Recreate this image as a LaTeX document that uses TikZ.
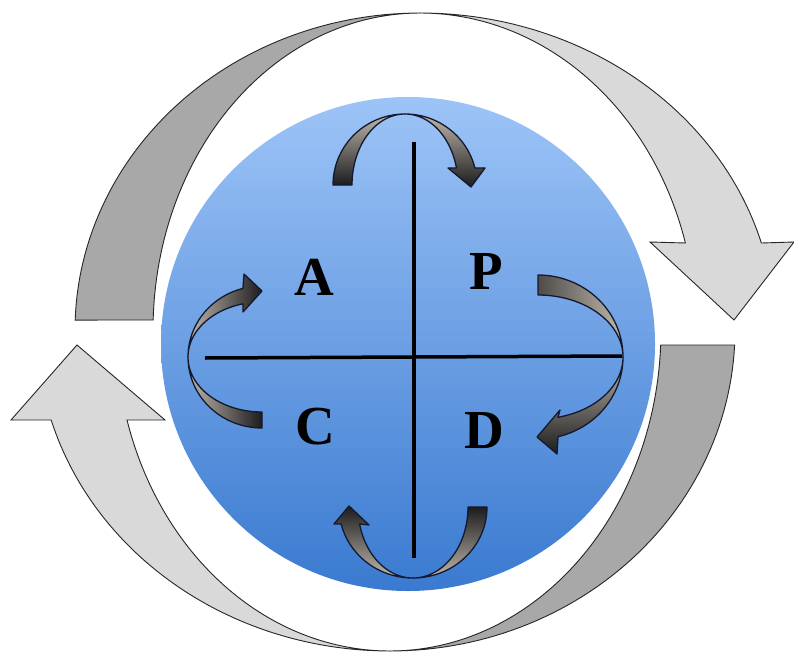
\documentclass[tikz,border=0pt]{standalone}
\usepackage{fontspec}
\setmainfont{Liberation Serif}
\definecolor{ringdark}{RGB}{168,168,168}
\definecolor{ringlight}{RGB}{217,217,217}
\definecolor{bluetop}{RGB}{157,196,247}
\definecolor{bluebot}{RGB}{58,122,208}
\definecolor{arrlight}{RGB}{192,184,172}
\definecolor{arrdark}{RGB}{28,28,30}
\definecolor{arredge}{RGB}{20,25,45}
\tikzset{
  ringband/.style={draw=black!85, line width=0.9pt, line join=miter},
  smallarr/.style={draw=arredge, line width=1.3pt, line join=round},
  letter/.style={font=\fontsize{55}{55}\selectfont\bfseries, inner sep=0pt},
  axisline/.style={line width=3.5pt, black},
}
\begin{document}
\begin{tikzpicture}[x=1pt,y=-1pt]
\useasboundingbox (0,0) rectangle (794,655);
\clip (0,0) rectangle (794,655);
\fill[white] (0,0) rectangle (794,655);

% ---- outer ring: top pair (centre 420,330)
\path[ringband, fill=ringdark]
  plot[domain=181.8:270, samples=60, variable=\t] ({420+345*cos(\t)},{330+317*sin(\t)})
  -- plot[domain=270:181.8, samples=60, variable=\t] ({420+267*cos(\t)},{330+317*sin(\t)})
  -- cycle;
\path[ringband, fill=ringlight]
  plot[domain=270:344.07, samples=60, variable=\t] ({420+355*cos(\t)},{330+317*sin(\t)})
  -- (794,242) -- (734,320) -- (650,242)
  -- plot[domain=344.07:270, samples=60, variable=\t] ({420+276*cos(\t)},{330+317*sin(\t)})
  -- cycle;
% ---- outer ring: bottom pair (centre 390,330)
\path[ringband, fill=ringdark]
  plot[domain=2.68:90, samples=60, variable=\t] ({390+345*cos(\t)},{330+321*sin(\t)})
  -- plot[domain=90:2.68, samples=60, variable=\t] ({390+271*cos(\t)},{330+321*sin(\t)})
  -- cycle;
\path[ringband, fill=ringlight]
  plot[domain=90:163.72, samples=60, variable=\t] ({390+353*cos(\t)},{330+321*sin(\t)})
  -- (11,420) -- (77,345) -- (165,420)
  -- plot[domain=163.72:90, samples=60, variable=\t] ({390+274*cos(\t)},{330+321*sin(\t)})
  -- cycle;

% ---- blue disc
\shade[top color=bluetop, bottom color=bluebot] (408,344) circle[radius=247pt];

% ---- cross
\coordinate (vt) at (414,142);
\coordinate (vb) at (414,558);
\coordinate (hl) at (205,358);
\coordinate (hr) at (622,356);
\draw[axisline] (vt) -- (vb);
\draw[axisline] (hl) -- (hr);

% ---- letters
\node[letter] (A) at (314,277) {A};
\node[letter] (P) at (486,271) {P};
\node[letter] (C) at (315,427) {C};
\node[letter] (D) at (484,431) {D};

% ---- small arrow top (A -> P), centre (405,185)
\path[smallarr, top color=arrlight, bottom color=arrdark]
  plot[domain=180:270, samples=40, variable=\t] ({405+72*cos(\t)},{185+71*sin(\t)})
  -- plot[domain=270:180, samples=40, variable=\t] ({405+53*cos(\t)},{185+71*sin(\t)})
  -- cycle;
\path[smallarr, top color=arrlight, bottom color=arrdark]
  plot[domain=270:346.1, samples=40, variable=\t] ({405+72*cos(\t)},{185+71*sin(\t)})
  -- (485,168) -- (471,187) -- (448,168)
  -- plot[domain=346.1:270, samples=40, variable=\t] ({405+53*cos(\t)},{185+71*sin(\t)})
  -- cycle;

% ---- small arrow right (P -> D), centre (538,357)
\path[smallarr, left color=arrdark!70!arrlight, right color=arrlight]
  plot[domain=270:360, samples=40, variable=\t] ({538+85*cos(\t)},{357+82*sin(\t)})
  -- plot[domain=360:270, samples=40, variable=\t] ({538+85*cos(\t)},{357+62*sin(\t)})
  -- cycle;
\path[smallarr, top color=arrlight, bottom color=arrdark]
  plot[domain=0:76.4, samples=40, variable=\t] ({538+85*cos(\t)},{357+82*sin(\t)})
  -- (557,454) -- (537,437) -- (560,410)
  -- plot[domain=76.4:0, samples=40, variable=\t] ({538+85*cos(\t)},{357+62*sin(\t)})
  -- cycle;

% ---- small arrow bottom (D -> C), centre (413,507)
\path[smallarr, top color=arrdark, bottom color=arrlight]
  plot[domain=0:90, samples=40, variable=\t] ({413+74*cos(\t)},{507+71*sin(\t)})
  -- plot[domain=90:0, samples=40, variable=\t] ({413+55*cos(\t)},{507+71*sin(\t)})
  -- cycle;
\path[smallarr, top color=arrdark, bottom color=arrlight]
  plot[domain=90:166.2, samples=40, variable=\t] ({413+74*cos(\t)},{507+71*sin(\t)})
  -- (334,524) -- (349,506) -- (369,525)
  -- plot[domain=166.2:90, samples=40, variable=\t] ({413+55*cos(\t)},{507+71*sin(\t)})
  -- cycle;

% ---- small arrow left (C -> A), centre (262,357)
\path[smallarr, left color=arrlight, right color=arrdark]
  plot[domain=90:180, samples=40, variable=\t] ({262+74*cos(\t)},{357+71*sin(\t)})
  -- plot[domain=180:90, samples=40, variable=\t] ({262+74*cos(\t)},{357+55*sin(\t)})
  -- cycle;
\path[smallarr, left color=arrlight, right color=arrdark]
  plot[domain=180:255.1, samples=40, variable=\t] ({262+74*cos(\t)},{357+71*sin(\t)})
  -- (244,274) -- (262,291) -- (243,312)
  -- plot[domain=255.1:180, samples=40, variable=\t] ({262+74*cos(\t)},{357+55*sin(\t)})
  -- cycle;
\end{tikzpicture}
\end{document}
